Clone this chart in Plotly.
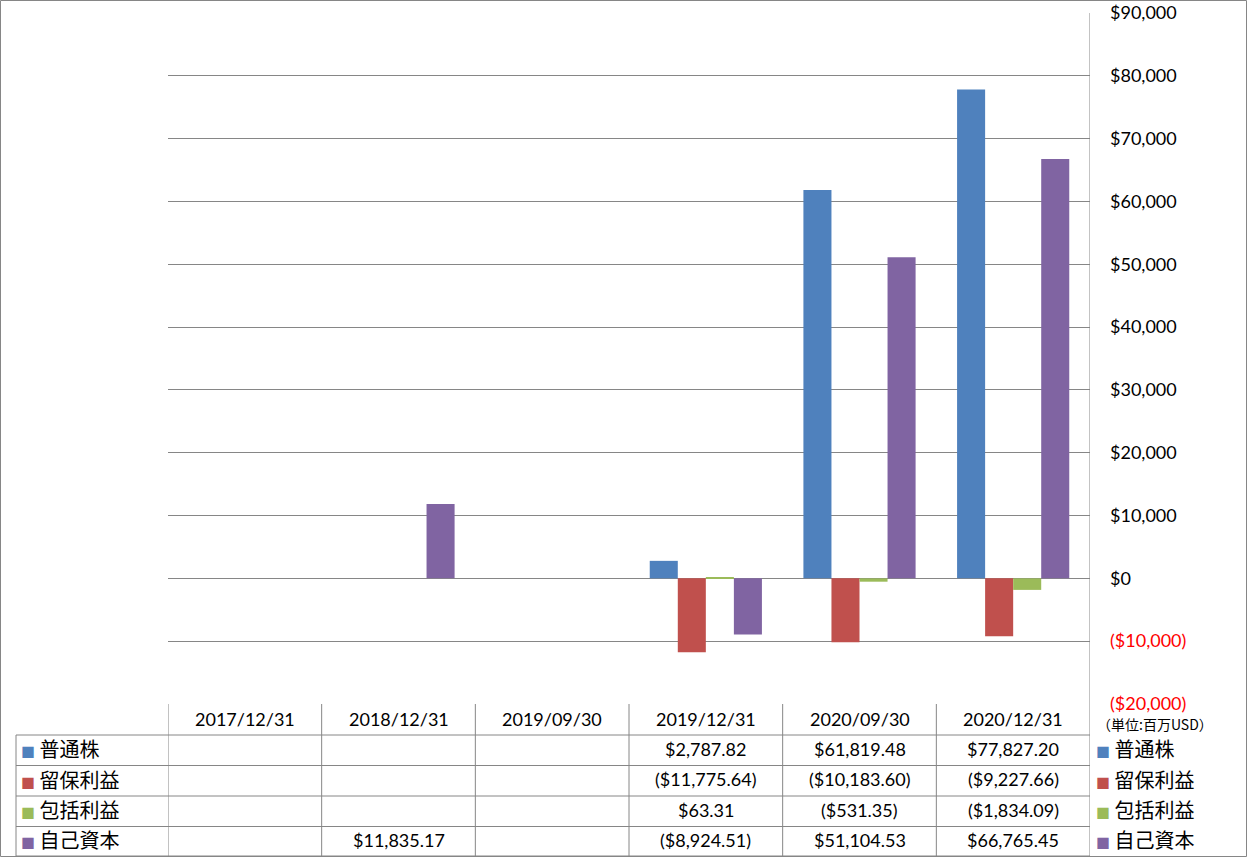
import plotly.graph_objects as go

categories = ["2017/12/31", "2018/12/31", "2019/09/30", "2019/12/31", "2020/09/30", "2020/12/31"]
series_names = ["普通株", "留保利益", "包括利益", "自己資本"]
common_stock = [None, None, None, 2787.82, 61819.48, 77827.20]
retained_earnings = [None, None, None, -11775.64, -10183.60, -9227.66]
comprehensive_income = [None, None, None, 63.31, -531.35, -1834.09]
equity = [None, 11835.17, None, -8924.51, 51104.53, 66765.45]
colors = ["#4F81BD", "#C0504D", "#9BBB59", "#8064A2"]
tick_values = [90000, 80000, 70000, 60000, 50000, 40000, 30000, 20000, 10000, 0, -10000, -20000]
unit_label = "（単位:百万USD）"

series_values = [common_stock, retained_earnings, comprehensive_income, equity]

W, H = 1247, 858
PL, PR, PT, PB = 168, 1090, 13, 704
GRID = "#868686"
LATIN = "Lato, 'Noto Sans CJK JP', sans-serif"
CJK = "'Noto Sans CJK JP', sans-serif"


def px2x(X):
    return (X - PL) / (PR - PL)


def px2y(Y):
    return (PB - Y) / (PB - PT)


def money(v):
    s = "${:,.2f}".format(abs(v))
    return "(" + s + ")" if v < 0 else s


def money_tick(v):
    s = "${:,.0f}".format(abs(v))
    if v < 0:
        return "<span style='color:#FF0000'>(" + s + ")</span>"
    return s


fig = go.Figure()
for name, vals, col in zip(series_names, series_values, colors):
    fig.add_trace(go.Bar(
        x=categories, y=vals, name=name, marker=dict(color=col, line=dict(width=0)),
        showlegend=False, hoverinfo="skip"))

shapes = []
annotations = []

# outer border
shapes.append(dict(type="rect", xref="paper", yref="paper",
                   x0=px2x(0.5), x1=px2x(W - 0.5), y0=px2y(0.5), y1=px2y(H - 1.5),
                   line=dict(color=GRID, width=1), fillcolor="rgba(0,0,0,0)", layer="below"))

row_edges = [PB, 735, 765.5, 796, 826.5, 856]
# header vertical lines
for i in range(len(categories) + 1):
    xv = i - 0.5
    y_top = PB if i < len(categories) else PT
    shapes.append(dict(type="line", xref="x", yref="paper", x0=xv, x1=xv,
                       y0=px2y(y_top), y1=px2y(row_edges[-1]),
                       line=dict(color=GRID, width=1)))
# horizontal row lines
for Y in row_edges[1:]:
    shapes.append(dict(type="line", xref="paper", yref="paper", x0=px2x(16), x1=px2x(PR),
                       y0=px2y(Y), y1=px2y(Y), line=dict(color=GRID, width=1)))
# left vertical of label column
shapes.append(dict(type="line", xref="paper", yref="paper", x0=px2x(16), x1=px2x(16),
                   y0=px2y(row_edges[1]), y1=px2y(row_edges[-1]), line=dict(color=GRID, width=1)))

# header categories
hy = (row_edges[0] + row_edges[1]) / 2 - 1
for c in categories:
    annotations.append(dict(x=c, xref="x", y=px2y(hy), yref="paper", text=c, showarrow=False,
                            font=dict(family=LATIN, size=18, color="#000000"),
                            xanchor="center", yanchor="middle"))

# rows
for r, (name, vals, col) in enumerate(zip(series_names, series_values, colors)):
    cy = (row_edges[r + 1] + row_edges[r + 2]) / 2 - 1.5
    label = "<span style='color:%s;font-size:14px'>■</span> %s" % (col, name)
    annotations.append(dict(x=px2x(19), xref="paper", y=px2y(cy), yref="paper", text=label,
                            showarrow=False, font=dict(family=CJK, size=20, color="#000000"),
                            xanchor="left", yanchor="middle"))
    annotations.append(dict(x=px2x(1094), xref="paper", y=px2y(cy), yref="paper", text=label,
                            showarrow=False, font=dict(family=CJK, size=20, color="#000000"),
                            xanchor="left", yanchor="middle"))
    for c, v in zip(categories, vals):
        if v is None:
            continue
        annotations.append(dict(x=c, xref="x", y=px2y(cy), yref="paper", text=money(v),
                                showarrow=False, font=dict(family=LATIN, size=18, color="#000000"),
                                xanchor="center", yanchor="middle"))

annotations.append(dict(x=px2x(1155), xref="paper", y=px2y(724), yref="paper", text=unit_label,
                        showarrow=False, font=dict(family=CJK, size=14, color="#000000"),
                        xanchor="center", yanchor="middle"))

fig.update_layout(
    width=W, height=H, autosize=False,
    margin=dict(l=PL, r=W - PR, t=PT, b=H - PB, pad=0, autoexpand=False),
    paper_bgcolor="#FFFFFF", plot_bgcolor="#FFFFFF",
    barmode="group", bargap=0.27, bargroupgap=0,
    xaxis=dict(type="category", range=[-0.5, len(categories) - 0.5], showticklabels=False,
               showgrid=False, zeroline=False, showline=False, ticks="", automargin=False),
    yaxis=dict(side="right", range=[-20000, 90000], tickvals=tick_values,
               ticktext=[money_tick(v) for v in tick_values], automargin=False,
               showgrid=True, gridcolor=GRID, gridwidth=1, zeroline=True, zerolinecolor=GRID,
               zerolinewidth=1, showline=False, ticks="", ticklabelstandoff=19,
               tickfont=dict(family=LATIN, size=18, color="#000000")),
    shapes=shapes, annotations=annotations,
    font=dict(family=LATIN),
)

post = ("document.body.style.margin='0';document.body.style.padding='0';"
        "var gd=document.getElementById('{plot_id}');"
        "gd.style.position='absolute';gd.style.left='0px';gd.style.top='0px';")
fig.write_html("out.html", post_script=post, config={"displayModeBar": False})
